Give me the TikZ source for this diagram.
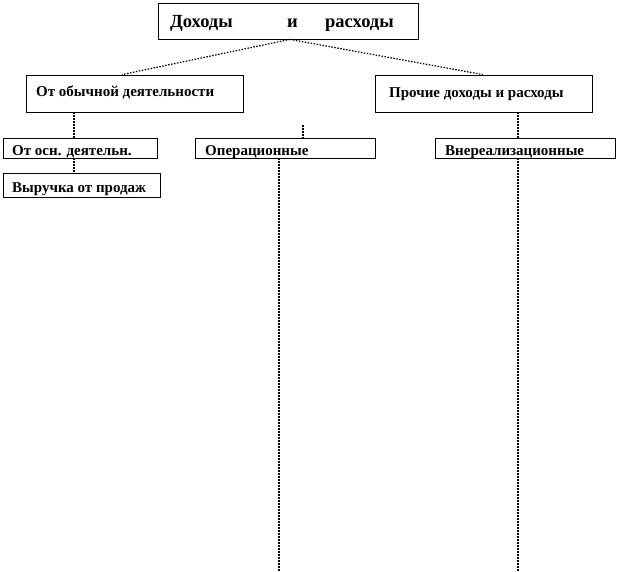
\documentclass[tikz,border=0pt]{standalone}
\usepackage{fontspec}
\setmainfont{Liberation Serif}
\begin{document}
\begin{tikzpicture}[x=1pt,y=-1pt,
  box/.style={draw=black,line width=0.8pt,inner sep=0pt,fill=white},
  conn/.style={draw=black,line width=1.2pt,dash pattern=on 1.5pt off 1.5pt},
  big/.style={font=\fontsize{18.5}{22}\selectfont\bfseries,inner sep=0pt,anchor=base west},
  mid/.style={font=\fontsize{15}{18}\selectfont\bfseries,inner sep=0pt,anchor=base west},
  small/.style={font=\fontsize{15}{18}\selectfont\bfseries,inner sep=0pt,anchor=base west}]
\useasboundingbox (0,0) rectangle (618,571);
% boxes
\node[box,minimum width=260,minimum height=36] (T) at (288,21) {};
\node[box,minimum width=217,minimum height=37] (L) at (134.5,93.5) {};
\node[box,minimum width=217,minimum height=37] (R) at (483.5,93.5) {};
\node[box,minimum width=154,minimum height=20] (A) at (80,148) {};
\node[box,minimum width=180,minimum height=20] (O) at (285,148) {};
\node[box,minimum width=180,minimum height=20] (V) at (525,148) {};
\node[box,minimum width=157,minimum height=24] (B) at (81.5,185) {};
% texts
\node[big] (t1) at (170,27) {Доходы};
\node[big] (t2) at (287,27) {и};
\node[big] (t3) at (325,27) {расходы};
\node[mid] (tl) at (36,96) {От обычной деятельности};
\node[mid] (tr) at (389,97) {Прочие доходы и расходы};
\node[small] (ta) at (12,155) {От осн. деятельн.};
\node[small] (to) at (205,155) {Операционные};
\node[small] (tv) at (445,155) {Внереализационные};
\node[small] (tb) at (12,192) {Выручка от продаж};
% free ends
\coordinate (otick) at (303,125);
\coordinate (oend) at (279,571);
\coordinate (vend) at (518,571);
% connectors
\draw[conn] ([xshift=2]T.south) -- ([xshift=-12.5]L.north);
\draw[conn] ([xshift=2]T.south) -- ([xshift=-0.5]R.north);
\draw[conn] ([xshift=-60.5]L.south) -- ([xshift=-6]A.north);
\draw[conn] ([xshift=-6]A.south) -- ([xshift=-7.5]B.north);
\draw[conn] (otick) -- ([xshift=18]O.north);
\draw[conn] ([xshift=-6]O.south) -- (oend);
\draw[conn] ([xshift=34.5]R.south) -- ([xshift=-7]V.north);
\draw[conn] ([xshift=-7]V.south) -- (vend);
\end{tikzpicture}
\end{document}
